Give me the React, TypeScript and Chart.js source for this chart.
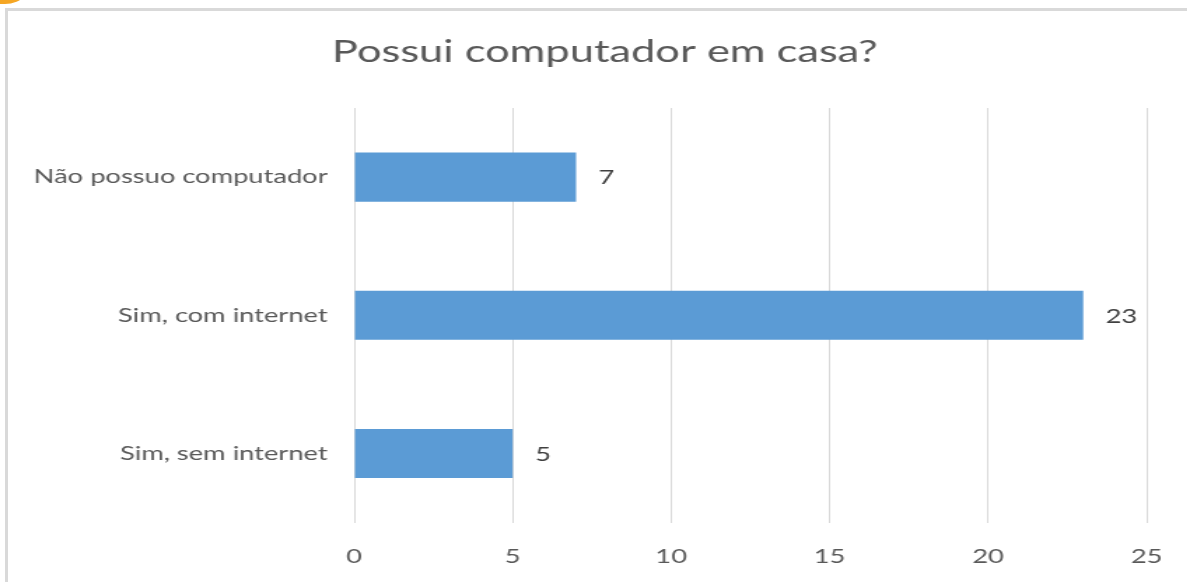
import React, { useEffect, useRef } from "react";
import { Chart, registerables } from "chart.js";

Chart.register(...registerables);

const TITLE = "Possui computador em casa?";
const categories = ["Não possuo computador", "Sim, com internet", "Sim, sem internet"];
const values = [7, 23, 5];
const xTicks = [0, 5, 10, 15, 20, 25];

const FONT = "Lato, 'Open Sans', sans-serif";
const STRETCH = 1.4;
const W = Math.round(1187 / STRETCH);
const H = 582;

const valueLabels = {
  id: "valueLabels",
  afterDatasetsDraw(chart: any) {
    const ctx = chart.ctx;
    const meta = chart.getDatasetMeta(0);
    ctx.save();
    ctx.font = `19.5px ${FONT}`;
    ctx.fillStyle = "#404040";
    ctx.textAlign = "left";
    ctx.textBaseline = "middle";
    meta.data.forEach((bar: any, i: number) => {
      ctx.fillText(String(values[i]), bar.x + 16, bar.y + 1);
    });
    ctx.restore();
  },
};

const chartTitle = {
  id: "chartTitle",
  afterDraw(chart: any) {
    const ctx = chart.ctx;
    ctx.save();
    ctx.font = `31px ${FONT}`;
    ctx.fillStyle = "#595959";
    ctx.textAlign = "center";
    ctx.textBaseline = "middle";
    ctx.fillText(TITLE, 432, 52);
    ctx.restore();
  },
};

export default function App() {
  const ref = useRef<HTMLCanvasElement | null>(null);
  useEffect(() => {
    if (!ref.current) return;
    const chart = new Chart(ref.current, {
      type: "bar",
      data: {
        labels: categories,
        datasets: [
          {
            data: values,
            backgroundColor: "#5B9BD5",
            borderWidth: 0,
            categoryPercentage: 1,
            barPercentage: 0.355,
          },
        ],
      },
      options: {
        indexAxis: "y",
        responsive: false,
        animation: false,
        layout: { padding: { left: 21, right: 29, top: 108, bottom: -8 } },
        plugins: {
          legend: { display: false },
          tooltip: { enabled: false },
          title: { display: false },
        },
        scales: {
          x: {
            min: 0,
            max: 25,
            afterBuildTicks: (axis: any) => {
              axis.ticks = xTicks.map((v) => ({ value: v }));
            },
            afterFit: (axis: any) => {
              axis.paddingRight = 0;
              axis.paddingLeft = 0;
            },
            grid: { color: "#d9d9d9", lineWidth: 1, tickLength: 0, drawTicks: false },
            border: { display: false },
            ticks: {
              color: "#595959",
              font: { family: FONT, size: 19.5 },
              padding: 22,
            },
          },
          y: {
            afterFit: (axis: any) => {
              axis.width = 232;
            },
            grid: { display: false },
            border: { display: false },
            ticks: {
              color: "#595959",
              font: { family: FONT, size: 19.5 },
              padding: 11,
            },
          },
        },
      },
      plugins: [valueLabels, chartTitle],
    });
    return () => chart.destroy();
  }, []);

  return (
    <div style={{ position: "absolute", left: 0, top: 0, width: 1187, height: 582, overflow: "hidden", background: "#fff" }}>
      <div style={{ position: "absolute", left: -10, top: -30, width: 45, height: 34, borderRadius: "0 0 30px 0", background: "#F5A623" }} />
      <div style={{ position: "absolute", left: 5, top: 8, width: 1300, height: 700, borderLeft: "3px solid #d9d9d9", borderTop: "3px solid #d9d9d9", background: "#fff" }} />
      <div style={{ position: "absolute", left: 0, top: 0, width: W, height: H, transform: `scaleX(${STRETCH})`, transformOrigin: "0 0" }}>
        <canvas ref={ref} width={W} height={H} style={{ display: "block" }} />
      </div>
    </div>
  );
}
